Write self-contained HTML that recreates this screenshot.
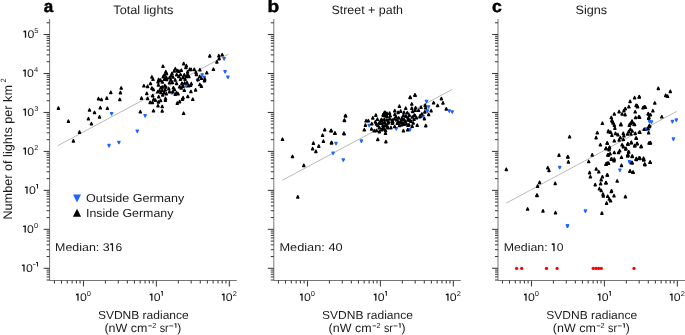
<!DOCTYPE html>
<html><head><meta charset="utf-8"><style>html,body{margin:0;padding:0;background:#fff;overflow:hidden}svg{display:block;will-change:transform;text-rendering:geometricPrecision}</style></head>
<body><svg width="685" height="335" viewBox="0 0 685 335">
<rect width="100%" height="100%" fill="#fff"/>
<path d="M49.6 19.0V280.5H236.8" stroke="#777" stroke-width="1" fill="none"/>
<path d="M46.60 280.01H49.6M46.60 276.92H49.6M46.60 274.31H49.6M46.60 272.06H49.6M46.60 270.06H49.6M43.60 268.28H49.6M46.60 256.55H49.6M46.60 249.69H49.6M46.60 244.82H49.6M46.60 241.05H49.6M46.60 237.96H49.6M46.60 235.35H49.6M46.60 233.10H49.6M46.60 231.10H49.6M43.60 229.32H49.6M46.60 217.59H49.6M46.60 210.73H49.6M46.60 205.86H49.6M46.60 202.09H49.6M46.60 199.00H49.6M46.60 196.39H49.6M46.60 194.14H49.6M46.60 192.14H49.6M43.60 190.36H49.6M46.60 178.63H49.6M46.60 171.77H49.6M46.60 166.90H49.6M46.60 163.13H49.6M46.60 160.04H49.6M46.60 157.43H49.6M46.60 155.18H49.6M46.60 153.18H49.6M43.60 151.40H49.6M46.60 139.67H49.6M46.60 132.81H49.6M46.60 127.94H49.6M46.60 124.17H49.6M46.60 121.08H49.6M46.60 118.47H49.6M46.60 116.22H49.6M46.60 114.22H49.6M43.60 112.44H49.6M46.60 100.71H49.6M46.60 93.85H49.6M46.60 88.98H49.6M46.60 85.21H49.6M46.60 82.12H49.6M46.60 79.51H49.6M46.60 77.26H49.6M46.60 75.26H49.6M43.60 73.48H49.6M46.60 61.75H49.6M46.60 54.89H49.6M46.60 50.02H49.6M46.60 46.25H49.6M46.60 43.16H49.6M46.60 40.55H49.6M46.60 38.30H49.6M46.60 36.30H49.6M43.60 34.52H49.6M46.60 22.79H49.6M54.42 280.5V283.50M61.49 280.5V283.50M67.26 280.5V283.50M72.14 280.5V283.50M76.37 280.5V283.50M80.10 280.5V283.50M83.44 280.5V286.50M105.39 280.5V283.50M118.24 280.5V283.50M127.35 280.5V283.50M134.42 280.5V283.50M140.19 280.5V283.50M145.07 280.5V283.50M149.30 280.5V283.50M153.03 280.5V283.50M156.37 280.5V286.50M178.32 280.5V283.50M191.17 280.5V283.50M200.28 280.5V283.50M207.35 280.5V283.50M213.12 280.5V283.50M218.00 280.5V283.50M222.23 280.5V283.50M225.96 280.5V283.50M229.30 280.5V286.50" stroke="#333" stroke-width="1" fill="none"/>
<path d="M273.8 19.0V280.5H460.8" stroke="#777" stroke-width="1" fill="none"/>
<path d="M270.80 280.01H273.8M270.80 276.92H273.8M270.80 274.31H273.8M270.80 272.06H273.8M270.80 270.06H273.8M267.80 268.28H273.8M270.80 256.55H273.8M270.80 249.69H273.8M270.80 244.82H273.8M270.80 241.05H273.8M270.80 237.96H273.8M270.80 235.35H273.8M270.80 233.10H273.8M270.80 231.10H273.8M267.80 229.32H273.8M270.80 217.59H273.8M270.80 210.73H273.8M270.80 205.86H273.8M270.80 202.09H273.8M270.80 199.00H273.8M270.80 196.39H273.8M270.80 194.14H273.8M270.80 192.14H273.8M267.80 190.36H273.8M270.80 178.63H273.8M270.80 171.77H273.8M270.80 166.90H273.8M270.80 163.13H273.8M270.80 160.04H273.8M270.80 157.43H273.8M270.80 155.18H273.8M270.80 153.18H273.8M267.80 151.40H273.8M270.80 139.67H273.8M270.80 132.81H273.8M270.80 127.94H273.8M270.80 124.17H273.8M270.80 121.08H273.8M270.80 118.47H273.8M270.80 116.22H273.8M270.80 114.22H273.8M267.80 112.44H273.8M270.80 100.71H273.8M270.80 93.85H273.8M270.80 88.98H273.8M270.80 85.21H273.8M270.80 82.12H273.8M270.80 79.51H273.8M270.80 77.26H273.8M270.80 75.26H273.8M267.80 73.48H273.8M270.80 61.75H273.8M270.80 54.89H273.8M270.80 50.02H273.8M270.80 46.25H273.8M270.80 43.16H273.8M270.80 40.55H273.8M270.80 38.30H273.8M270.80 36.30H273.8M267.80 34.52H273.8M270.80 22.79H273.8M278.43 280.5V283.50M285.50 280.5V283.50M291.27 280.5V283.50M296.15 280.5V283.50M300.38 280.5V283.50M304.11 280.5V283.50M307.45 280.5V286.50M329.40 280.5V283.50M342.25 280.5V283.50M351.36 280.5V283.50M358.43 280.5V283.50M364.20 280.5V283.50M369.08 280.5V283.50M373.31 280.5V283.50M377.04 280.5V283.50M380.38 280.5V286.50M402.33 280.5V283.50M415.18 280.5V283.50M424.29 280.5V283.50M431.36 280.5V283.50M437.13 280.5V283.50M442.01 280.5V283.50M446.24 280.5V283.50M449.97 280.5V283.50M453.31 280.5V286.50" stroke="#333" stroke-width="1" fill="none"/>
<path d="M498.0 19.0V280.5H685.5" stroke="#777" stroke-width="1" fill="none"/>
<path d="M495.00 280.01H498.0M495.00 276.92H498.0M495.00 274.31H498.0M495.00 272.06H498.0M495.00 270.06H498.0M492.00 268.28H498.0M495.00 256.55H498.0M495.00 249.69H498.0M495.00 244.82H498.0M495.00 241.05H498.0M495.00 237.96H498.0M495.00 235.35H498.0M495.00 233.10H498.0M495.00 231.10H498.0M492.00 229.32H498.0M495.00 217.59H498.0M495.00 210.73H498.0M495.00 205.86H498.0M495.00 202.09H498.0M495.00 199.00H498.0M495.00 196.39H498.0M495.00 194.14H498.0M495.00 192.14H498.0M492.00 190.36H498.0M495.00 178.63H498.0M495.00 171.77H498.0M495.00 166.90H498.0M495.00 163.13H498.0M495.00 160.04H498.0M495.00 157.43H498.0M495.00 155.18H498.0M495.00 153.18H498.0M492.00 151.40H498.0M495.00 139.67H498.0M495.00 132.81H498.0M495.00 127.94H498.0M495.00 124.17H498.0M495.00 121.08H498.0M495.00 118.47H498.0M495.00 116.22H498.0M495.00 114.22H498.0M492.00 112.44H498.0M495.00 100.71H498.0M495.00 93.85H498.0M495.00 88.98H498.0M495.00 85.21H498.0M495.00 82.12H498.0M495.00 79.51H498.0M495.00 77.26H498.0M495.00 75.26H498.0M492.00 73.48H498.0M495.00 61.75H498.0M495.00 54.89H498.0M495.00 50.02H498.0M495.00 46.25H498.0M495.00 43.16H498.0M495.00 40.55H498.0M495.00 38.30H498.0M495.00 36.30H498.0M492.00 34.52H498.0M495.00 22.79H498.0M502.43 280.5V283.50M509.50 280.5V283.50M515.27 280.5V283.50M520.15 280.5V283.50M524.38 280.5V283.50M528.11 280.5V283.50M531.45 280.5V286.50M553.40 280.5V283.50M566.25 280.5V283.50M575.36 280.5V283.50M582.43 280.5V283.50M588.20 280.5V283.50M593.08 280.5V283.50M597.31 280.5V283.50M601.04 280.5V283.50M604.38 280.5V286.50M626.33 280.5V283.50M639.18 280.5V283.50M648.29 280.5V283.50M655.36 280.5V283.50M661.13 280.5V283.50M666.01 280.5V283.50M670.24 280.5V283.50M673.97 280.5V283.50M677.31 280.5V286.50" stroke="#333" stroke-width="1" fill="none"/>
<line x1="58" y1="145.6" x2="228.2" y2="54.3" stroke="#bababa" stroke-width="1"/>
<line x1="282.1" y1="180.4" x2="452.4" y2="89.3" stroke="#bababa" stroke-width="1"/>
<line x1="506.3" y1="203.1" x2="676.7" y2="111.4" stroke="#bababa" stroke-width="1"/>
<g fill="#1f66ff" stroke="#1f66ff" stroke-width="1.35" stroke-linejoin="round">
<path d="M110.50 112.60H112.70L111.60 114.95Z"/>
<path d="M107.90 144.50H110.10L109.00 146.85Z"/>
<path d="M117.80 141.40H120.00L118.90 143.75Z"/>
<path d="M136.20 130.10H138.40L137.30 132.45Z"/>
<path d="M170.90 91.80H173.10L172.00 94.15Z"/>
<path d="M144.00 114.60H146.20L145.10 116.95Z"/>
<path d="M201.10 73.80H203.30L202.20 76.15Z"/>
<path d="M203.20 76.30H205.40L204.30 78.65Z"/>
<path d="M223.00 57.70H225.20L224.10 60.05Z"/>
<path d="M224.00 70.60H226.20L225.10 72.95Z"/>
<path d="M226.80 76.10H229.00L227.90 78.45Z"/>
<path d="M185.10 85.00H187.30L186.20 87.35Z"/>
<path d="M180.90 85.70H183.10L182.00 88.05Z"/>
<path d="M196.40 79.10H198.60L197.50 81.45Z"/>
<path d="M334.90 142.30H337.10L336.00 144.65Z"/>
<path d="M332.00 152.20H334.20L333.10 154.55Z"/>
<path d="M342.20 158.90H344.40L343.30 161.25Z"/>
<path d="M448.20 109.90H450.40L449.30 112.25Z"/>
<path d="M451.10 110.80H453.30L452.20 113.15Z"/>
<path d="M368.10 124.40H370.30L369.20 126.75Z"/>
<path d="M360.30 140.00H362.50L361.40 142.35Z"/>
<path d="M395.20 127.60H397.40L396.30 129.95Z"/>
<path d="M408.80 128.70H411.00L409.90 131.05Z"/>
<path d="M404.80 120.80H407.00L405.90 123.15Z"/>
<path d="M425.40 100.40H427.60L426.50 102.75Z"/>
<path d="M427.50 105.80H429.70L428.60 108.15Z"/>
<path d="M426.20 110.00H428.40L427.30 112.35Z"/>
<path d="M422.00 115.40H424.20L423.10 117.75Z"/>
<path d="M558.60 166.40H560.80L559.70 168.75Z"/>
<path d="M566.40 225.00H568.60L567.50 227.35Z"/>
<path d="M584.30 210.00H586.50L585.40 212.35Z"/>
<path d="M566.30 224.80H568.50L567.40 227.15Z"/>
<path d="M648.50 120.60H650.70L649.60 122.95Z"/>
<path d="M645.50 128.20H647.70L646.60 130.55Z"/>
<path d="M628.70 161.40H630.90L629.80 163.75Z"/>
<path d="M618.80 169.10H621.00L619.90 171.45Z"/>
<path d="M650.40 120.90H652.60L651.50 123.25Z"/>
<path d="M649.00 125.80H651.20L650.10 128.15Z"/>
<path d="M645.50 128.10H647.70L646.60 130.45Z"/>
<path d="M671.30 120.50H673.50L672.40 122.85Z"/>
<path d="M675.20 119.00H677.40L676.30 121.35Z"/>
<path d="M672.30 138.00H674.50L673.40 140.35Z"/>
<path d="M628.40 160.70H630.60L629.50 163.05Z"/>
</g>
<g fill="#000" stroke="#000" stroke-width="1.35" stroke-linejoin="round">
<path d="M58.40 106.85L59.50 109.20H57.30Z"/>
<path d="M68.40 119.95L69.50 122.30H67.30Z"/>
<path d="M73.40 139.65L74.50 142.00H72.30Z"/>
<path d="M79.50 130.85L80.60 133.20H78.40Z"/>
<path d="M88.40 117.45L89.50 119.80H87.30Z"/>
<path d="M91.40 122.45L92.50 124.80H90.30Z"/>
<path d="M89.50 108.75L90.60 111.10H88.40Z"/>
<path d="M94.50 111.25L95.60 113.60H93.40Z"/>
<path d="M99.50 115.65L100.60 118.00H98.40Z"/>
<path d="M100.30 106.45L101.40 108.80H99.20Z"/>
<path d="M98.50 97.45L99.60 99.80H97.40Z"/>
<path d="M101.40 98.25L102.50 100.60H100.30Z"/>
<path d="M106.80 96.85L107.90 99.20H105.70Z"/>
<path d="M107.40 107.05L108.50 109.40H106.30Z"/>
<path d="M110.80 91.15L111.90 93.50H109.70Z"/>
<path d="M121.20 86.75L122.30 89.10H120.10Z"/>
<path d="M120.40 91.35L121.50 93.70H119.30Z"/>
<path d="M119.80 98.25L120.90 100.60H118.70Z"/>
<path d="M163.00 65.05L164.10 67.40H161.90Z"/>
<path d="M175.30 67.55L176.40 69.90H174.20Z"/>
<path d="M177.10 69.35L178.20 71.70H176.00Z"/>
<path d="M174.20 69.75L175.30 72.10H173.10Z"/>
<path d="M165.80 70.45L166.90 72.80H164.70Z"/>
<path d="M166.50 72.25L167.60 74.60H165.40Z"/>
<path d="M164.30 73.75L165.40 76.10H163.20Z"/>
<path d="M172.00 72.25L173.10 74.60H170.90Z"/>
<path d="M176.70 73.35L177.80 75.70H175.60Z"/>
<path d="M171.20 74.45L172.30 76.80H170.10Z"/>
<path d="M163.20 75.55L164.30 77.90H162.10Z"/>
<path d="M151.90 75.75L153.00 78.10H150.80Z"/>
<path d="M153.00 77.95L154.10 80.30H151.90Z"/>
<path d="M158.70 78.25L159.80 80.60H157.60Z"/>
<path d="M160.50 78.95L161.60 81.30H159.40Z"/>
<path d="M158.00 80.45L159.10 82.80H156.90Z"/>
<path d="M162.30 80.75L163.40 83.10H161.20Z"/>
<path d="M164.50 77.95L165.60 80.30H163.40Z"/>
<path d="M166.30 76.15L167.40 78.50H165.20Z"/>
<path d="M166.60 78.25L167.70 80.60H165.50Z"/>
<path d="M169.50 76.45L170.60 78.80H168.40Z"/>
<path d="M170.90 78.65L172.00 81.00H169.80Z"/>
<path d="M173.00 75.75L174.10 78.10H171.90Z"/>
<path d="M175.20 78.65L176.30 81.00H174.10Z"/>
<path d="M169.50 81.45L170.60 83.80H168.40Z"/>
<path d="M172.30 81.15L173.40 83.50H171.20Z"/>
<path d="M176.60 82.25L177.70 84.60H175.50Z"/>
<path d="M150.50 82.25L151.60 84.60H149.40Z"/>
<path d="M158.40 83.65L159.50 86.00H157.30Z"/>
<path d="M164.80 84.35L165.90 86.70H163.70Z"/>
<path d="M165.90 85.75L167.00 88.10H164.80Z"/>
<path d="M162.30 85.75L163.40 88.10H161.20Z"/>
<path d="M160.90 86.55L162.00 88.90H159.80Z"/>
<path d="M151.90 86.85L153.00 89.20H150.80Z"/>
<path d="M153.40 88.25L154.50 90.60H152.30Z"/>
<path d="M168.80 87.55L169.90 89.90H167.70Z"/>
<path d="M173.40 86.55L174.50 88.90H172.30Z"/>
<path d="M174.50 88.25L175.60 90.60H173.40Z"/>
<path d="M159.50 89.35L160.60 91.70H158.40Z"/>
<path d="M162.30 89.05L163.40 91.40H161.20Z"/>
<path d="M165.20 88.65L166.30 91.00H164.10Z"/>
<path d="M157.70 90.45L158.80 92.80H156.60Z"/>
<path d="M160.90 91.15L162.00 93.50H159.80Z"/>
<path d="M164.10 91.55L165.20 93.90H163.00Z"/>
<path d="M166.30 92.55L167.40 94.90H165.20Z"/>
<path d="M169.50 90.45L170.60 92.80H168.40Z"/>
<path d="M152.70 94.35L153.80 96.70H151.60Z"/>
<path d="M158.70 95.45L159.80 97.80H157.60Z"/>
<path d="M162.70 93.65L163.80 96.00H161.60Z"/>
<path d="M165.50 97.25L166.60 99.60H164.40Z"/>
<path d="M175.20 92.95L176.30 95.30H174.10Z"/>
<path d="M176.60 91.55L177.70 93.90H175.50Z"/>
<path d="M153.70 97.95L154.80 100.30H152.60Z"/>
<path d="M143.90 84.55L145.00 86.90H142.80Z"/>
<path d="M147.60 85.15L148.70 87.50H146.50Z"/>
<path d="M146.80 92.15L147.90 94.50H145.70Z"/>
<path d="M141.50 96.85L142.60 99.20H140.40Z"/>
<path d="M147.60 97.25L148.70 99.60H146.50Z"/>
<path d="M140.30 110.45L141.40 112.80H139.20Z"/>
<path d="M153.50 109.55L154.60 111.90H152.40Z"/>
<path d="M162.20 109.75L163.30 112.10H161.10Z"/>
<path d="M158.00 104.45L159.10 106.80H156.90Z"/>
<path d="M162.20 105.25L163.30 107.60H161.10Z"/>
<path d="M150.10 101.15L151.20 103.50H149.00Z"/>
<path d="M152.40 101.15L153.50 103.50H151.30Z"/>
<path d="M158.40 100.75L159.50 103.10H157.30Z"/>
<path d="M160.60 99.25L161.70 101.60H159.50Z"/>
<path d="M165.40 98.85L166.50 101.20H164.30Z"/>
<path d="M155.40 98.85L156.50 101.20H154.30Z"/>
<path d="M183.70 62.35L184.80 64.70H182.60Z"/>
<path d="M186.40 64.45L187.50 66.80H185.30Z"/>
<path d="M185.90 66.15L187.00 68.50H184.80Z"/>
<path d="M189.70 68.15L190.80 70.50H188.60Z"/>
<path d="M191.00 68.15L192.10 70.50H189.90Z"/>
<path d="M194.30 68.15L195.40 70.50H193.20Z"/>
<path d="M199.90 68.45L201.00 70.80H198.80Z"/>
<path d="M206.80 71.55L207.90 73.90H205.70Z"/>
<path d="M181.30 69.05L182.40 71.40H180.20Z"/>
<path d="M178.80 69.85L179.90 72.20H177.70Z"/>
<path d="M187.60 70.65L188.70 73.00H186.50Z"/>
<path d="M196.00 71.15L197.10 73.50H194.90Z"/>
<path d="M196.40 73.25L197.50 75.60H195.30Z"/>
<path d="M180.50 73.25L181.60 75.60H179.40Z"/>
<path d="M184.30 73.65L185.40 76.00H183.20Z"/>
<path d="M187.60 73.25L188.70 75.60H186.50Z"/>
<path d="M178.80 75.25L179.90 77.60H177.70Z"/>
<path d="M183.00 76.15L184.10 78.50H181.90Z"/>
<path d="M186.40 75.25L187.50 77.60H185.30Z"/>
<path d="M188.90 75.25L190.00 77.60H187.80Z"/>
<path d="M180.50 77.85L181.60 80.20H179.40Z"/>
<path d="M185.10 77.85L186.20 80.20H184.00Z"/>
<path d="M199.70 75.25L200.80 77.60H198.60Z"/>
<path d="M201.40 76.95L202.50 79.30H200.30Z"/>
<path d="M198.10 78.25L199.20 80.60H197.00Z"/>
<path d="M204.80 77.85L205.90 80.20H203.70Z"/>
<path d="M209.80 54.65L210.90 57.00H208.70Z"/>
<path d="M218.80 54.45L219.90 56.80H217.70Z"/>
<path d="M222.20 53.55L223.30 55.90H221.10Z"/>
<path d="M219.10 57.35L220.20 59.70H218.00Z"/>
<path d="M216.90 60.65L218.00 63.00H215.80Z"/>
<path d="M213.40 68.05L214.50 70.40H212.30Z"/>
<path d="M182.00 82.05L183.10 84.40H180.90Z"/>
<path d="M184.70 81.75L185.80 84.10H183.60Z"/>
<path d="M187.00 81.35L188.10 83.70H185.90Z"/>
<path d="M191.30 82.45L192.40 84.80H190.20Z"/>
<path d="M190.50 84.05L191.60 86.40H189.40Z"/>
<path d="M188.60 84.45L189.70 86.80H187.50Z"/>
<path d="M183.10 84.85L184.20 87.20H182.00Z"/>
<path d="M179.60 85.55L180.70 87.90H178.50Z"/>
<path d="M181.20 86.75L182.30 89.10H180.10Z"/>
<path d="M184.30 89.05L185.40 91.40H183.20Z"/>
<path d="M178.10 92.55L179.20 94.90H177.00Z"/>
<path d="M190.90 90.25L192.00 92.60H189.80Z"/>
<path d="M195.60 88.65L196.70 91.00H194.50Z"/>
<path d="M187.80 95.25L188.90 97.60H186.70Z"/>
<path d="M183.10 96.45L184.20 98.80H182.00Z"/>
<path d="M182.40 98.05L183.50 100.40H181.30Z"/>
<path d="M192.80 98.05L193.90 100.40H191.70Z"/>
<path d="M179.60 100.35L180.70 102.70H178.50Z"/>
<path d="M177.30 101.85L178.40 104.20H176.20Z"/>
<path d="M199.80 83.25L200.90 85.60H198.70Z"/>
<path d="M201.40 84.85L202.50 87.20H200.30Z"/>
<path d="M204.50 79.35L205.60 81.70H203.40Z"/>
<path d="M183.60 112.05L184.70 114.40H182.50Z"/>
<path d="M172.80 90.45L173.90 92.80H171.70Z"/>
<path d="M282.50 138.05L283.60 140.40H281.40Z"/>
<path d="M292.50 155.25L293.60 157.60H291.40Z"/>
<path d="M303.80 164.15L304.90 166.50H302.70Z"/>
<path d="M297.80 195.65L298.90 198.00H296.70Z"/>
<path d="M313.40 141.85L314.50 144.20H312.30Z"/>
<path d="M312.60 147.45L313.70 149.80H311.50Z"/>
<path d="M315.90 150.15L317.00 152.50H314.80Z"/>
<path d="M318.80 144.85L319.90 147.20H317.70Z"/>
<path d="M323.40 139.95L324.50 142.30H322.30Z"/>
<path d="M322.60 134.05L323.70 136.40H321.50Z"/>
<path d="M324.70 128.45L325.80 130.80H323.60Z"/>
<path d="M330.90 129.45L332.00 131.80H329.80Z"/>
<path d="M335.00 131.85L336.10 134.20H333.90Z"/>
<path d="M331.50 141.35L332.60 143.70H330.40Z"/>
<path d="M344.10 132.45L345.20 134.80H343.00Z"/>
<path d="M344.40 119.25L345.50 121.60H343.30Z"/>
<path d="M345.40 114.45L346.50 116.80H344.30Z"/>
<path d="M410.10 95.95L411.20 98.30H409.00Z"/>
<path d="M414.90 93.75L416.00 96.10H413.80Z"/>
<path d="M441.40 97.35L442.50 99.70H440.30Z"/>
<path d="M443.00 101.65L444.10 104.00H441.90Z"/>
<path d="M446.30 107.65L447.40 110.00H445.20Z"/>
<path d="M345.60 114.55L346.70 116.90H344.50Z"/>
<path d="M344.40 118.95L345.50 121.30H343.30Z"/>
<path d="M331.30 129.25L332.40 131.60H330.20Z"/>
<path d="M334.90 132.05L336.00 134.40H333.80Z"/>
<path d="M343.90 132.05L345.00 134.40H342.80Z"/>
<path d="M331.60 141.55L332.70 143.90H330.50Z"/>
<path d="M415.10 93.95L416.20 96.30H414.00Z"/>
<path d="M410.30 96.25L411.40 98.60H409.20Z"/>
<path d="M375.90 113.85L377.00 116.20H374.80Z"/>
<path d="M372.80 116.65L373.90 119.00H371.70Z"/>
<path d="M377.40 117.95L378.50 120.30H376.30Z"/>
<path d="M383.10 113.55L384.20 115.90H382.00Z"/>
<path d="M384.30 111.45L385.40 113.80H383.20Z"/>
<path d="M381.60 118.25L382.70 120.60H380.50Z"/>
<path d="M366.10 119.55L367.20 121.90H365.00Z"/>
<path d="M368.30 119.55L369.40 121.90H367.20Z"/>
<path d="M365.40 123.85L366.50 126.20H364.30Z"/>
<path d="M371.80 122.45L372.90 124.80H370.70Z"/>
<path d="M364.30 128.55L365.40 130.90H363.20Z"/>
<path d="M371.50 127.75L372.60 130.10H370.40Z"/>
<path d="M374.30 129.55L375.40 131.90H373.20Z"/>
<path d="M376.50 129.25L377.60 131.60H375.40Z"/>
<path d="M379.40 130.35L380.50 132.70H378.30Z"/>
<path d="M377.80 138.15L378.90 140.50H376.70Z"/>
<path d="M375.40 120.65L376.50 123.00H374.30Z"/>
<path d="M376.50 122.75L377.60 125.10H375.40Z"/>
<path d="M377.90 124.25L379.00 126.60H376.80Z"/>
<path d="M379.40 121.35L380.50 123.70H378.30Z"/>
<path d="M380.80 119.15L381.90 121.50H379.70Z"/>
<path d="M382.60 121.35L383.70 123.70H381.50Z"/>
<path d="M382.90 124.25L384.00 126.60H381.80Z"/>
<path d="M382.90 127.05L384.00 129.40H381.80Z"/>
<path d="M379.40 126.35L380.50 128.70H378.30Z"/>
<path d="M399.40 104.95L400.50 107.30H398.30Z"/>
<path d="M405.70 106.95L406.80 109.30H404.60Z"/>
<path d="M394.80 109.55L395.90 111.90H393.70Z"/>
<path d="M398.10 111.15L399.20 113.50H397.00Z"/>
<path d="M400.70 109.85L401.80 112.20H399.60Z"/>
<path d="M404.00 111.15L405.10 113.50H402.90Z"/>
<path d="M407.30 111.55L408.40 113.90H406.20Z"/>
<path d="M385.00 111.15L386.10 113.50H383.90Z"/>
<path d="M386.90 112.15L388.00 114.50H385.80Z"/>
<path d="M389.60 111.85L390.70 114.20H388.50Z"/>
<path d="M383.70 114.15L384.80 116.50H382.60Z"/>
<path d="M386.90 114.85L388.00 117.20H385.80Z"/>
<path d="M390.20 114.45L391.30 116.80H389.10Z"/>
<path d="M394.80 113.15L395.90 115.50H393.70Z"/>
<path d="M396.10 115.45L397.20 117.80H395.00Z"/>
<path d="M398.80 116.75L399.90 119.10H397.70Z"/>
<path d="M403.40 114.15L404.50 116.50H402.30Z"/>
<path d="M406.00 114.85L407.10 117.20H404.90Z"/>
<path d="M409.30 113.85L410.40 116.20H408.20Z"/>
<path d="M384.30 118.05L385.40 120.40H383.20Z"/>
<path d="M386.90 118.75L388.00 121.10H385.80Z"/>
<path d="M389.60 117.45L390.70 119.80H388.50Z"/>
<path d="M392.20 118.75L393.30 121.10H391.10Z"/>
<path d="M394.50 117.45L395.60 119.80H393.40Z"/>
<path d="M396.80 118.75L397.90 121.10H395.70Z"/>
<path d="M401.40 118.75L402.50 121.10H400.30Z"/>
<path d="M404.00 118.05L405.10 120.40H402.90Z"/>
<path d="M408.00 118.75L409.10 121.10H406.90Z"/>
<path d="M392.80 120.75L393.90 123.10H391.70Z"/>
<path d="M398.80 120.75L399.90 123.10H397.70Z"/>
<path d="M390.90 126.35L392.00 128.70H389.80Z"/>
<path d="M394.60 125.25L395.70 127.60H393.50Z"/>
<path d="M403.40 129.55L404.50 131.90H402.30Z"/>
<path d="M407.70 128.55L408.80 130.90H406.60Z"/>
<path d="M385.90 140.35L387.00 142.70H384.80Z"/>
<path d="M385.10 124.25L386.20 126.60H384.00Z"/>
<path d="M384.40 127.75L385.50 130.10H383.30Z"/>
<path d="M385.50 129.25L386.60 131.60H384.40Z"/>
<path d="M388.00 121.65L389.10 124.00H386.90Z"/>
<path d="M392.30 121.85L393.40 124.20H391.20Z"/>
<path d="M397.30 121.85L398.40 124.20H396.20Z"/>
<path d="M401.60 123.45L402.70 125.80H400.50Z"/>
<path d="M403.00 122.05L404.10 124.40H401.90Z"/>
<path d="M399.50 124.25L400.60 126.60H398.40Z"/>
<path d="M387.30 124.95L388.40 127.30H386.20Z"/>
<path d="M433.60 101.55L434.70 103.90H432.50Z"/>
<path d="M437.60 104.25L438.70 106.60H436.50Z"/>
<path d="M411.80 102.75L412.90 105.10H410.70Z"/>
<path d="M411.80 106.95L412.90 109.30H410.70Z"/>
<path d="M415.60 106.55L416.70 108.90H414.50Z"/>
<path d="M421.00 105.95L422.10 108.30H419.90Z"/>
<path d="M425.20 104.05L426.30 106.40H424.10Z"/>
<path d="M425.60 106.55L426.70 108.90H424.50Z"/>
<path d="M431.10 109.45L432.20 111.80H430.00Z"/>
<path d="M428.60 113.25L429.70 115.60H427.50Z"/>
<path d="M424.80 110.65L425.90 113.00H423.70Z"/>
<path d="M418.50 109.05L419.60 111.40H417.40Z"/>
<path d="M415.20 109.05L416.30 111.40H414.10Z"/>
<path d="M412.70 110.25L413.80 112.60H411.60Z"/>
<path d="M421.90 112.75L423.00 115.10H420.80Z"/>
<path d="M420.20 114.45L421.30 116.80H419.10Z"/>
<path d="M414.30 114.05L415.40 116.40H413.20Z"/>
<path d="M412.30 115.75L413.40 118.10H411.20Z"/>
<path d="M424.40 117.35L425.50 119.70H423.30Z"/>
<path d="M417.20 123.95L418.30 126.30H416.10Z"/>
<path d="M425.80 124.35L426.90 126.70H424.70Z"/>
<path d="M413.20 121.75L414.30 124.10H412.10Z"/>
<path d="M412.20 125.05L413.30 127.40H411.10Z"/>
<path d="M406.40 122.55L407.50 124.90H405.30Z"/>
<path d="M407.90 123.95L409.00 126.30H406.80Z"/>
<path d="M410.00 118.95L411.10 121.30H408.90Z"/>
<path d="M415.00 114.25L416.10 116.60H413.90Z"/>
<path d="M420.00 115.35L421.10 117.70H418.90Z"/>
<path d="M402.00 117.05L403.10 119.40H400.90Z"/>
<path d="M405.00 120.05L406.10 122.40H403.90Z"/>
<path d="M408.00 116.55L409.10 118.90H406.90Z"/>
<path d="M411.00 120.05L412.10 122.40H409.90Z"/>
<path d="M404.00 123.05L405.10 125.40H402.90Z"/>
<path d="M414.00 118.05L415.10 120.40H412.90Z"/>
<path d="M409.00 123.55L410.10 125.90H407.90Z"/>
<path d="M401.00 121.05L402.10 123.40H399.90Z"/>
<path d="M416.50 116.55L417.60 118.90H415.40Z"/>
<path d="M385.00 113.95L386.10 116.30H383.90Z"/>
<path d="M386.90 115.25L388.00 117.60H385.80Z"/>
<path d="M384.60 121.05L385.70 123.40H383.50Z"/>
<path d="M388.70 120.65L389.80 123.00H387.60Z"/>
<path d="M392.30 120.25L393.40 122.60H391.20Z"/>
<path d="M386.00 123.75L387.10 126.10H384.90Z"/>
<path d="M380.60 121.95L381.70 124.30H379.50Z"/>
<path d="M383.30 126.85L384.40 129.20H382.20Z"/>
<path d="M387.80 126.45L388.90 128.80H386.70Z"/>
<path d="M385.50 132.05L386.60 134.40H384.40Z"/>
<path d="M381.50 128.55L382.60 130.90H380.40Z"/>
<path d="M506.30 168.15L507.40 170.50H505.20Z"/>
<path d="M547.80 166.55L548.90 168.90H546.70Z"/>
<path d="M549.00 169.15L550.10 171.50H547.90Z"/>
<path d="M559.00 153.85L560.10 156.20H557.90Z"/>
<path d="M567.90 155.75L569.00 158.10H566.80Z"/>
<path d="M568.40 160.65L569.50 163.00H567.30Z"/>
<path d="M539.60 181.15L540.70 183.50H538.50Z"/>
<path d="M537.60 184.85L538.70 187.20H536.50Z"/>
<path d="M555.20 182.15L556.30 184.50H554.10Z"/>
<path d="M537.00 193.85L538.10 196.20H535.90Z"/>
<path d="M537.00 194.25L538.10 196.60H535.90Z"/>
<path d="M527.60 207.75L528.70 210.10H526.50Z"/>
<path d="M543.00 209.65L544.10 212.00H541.90Z"/>
<path d="M555.50 211.45L556.60 213.80H554.40Z"/>
<path d="M602.40 122.05L603.50 124.40H601.30Z"/>
<path d="M569.60 135.55L570.70 137.90H568.50Z"/>
<path d="M597.30 131.55L598.40 133.90H596.20Z"/>
<path d="M596.10 136.35L597.20 138.70H595.00Z"/>
<path d="M608.40 130.35L609.50 132.70H607.30Z"/>
<path d="M600.40 143.55L601.50 145.90H599.30Z"/>
<path d="M607.20 141.95L608.30 144.30H606.10Z"/>
<path d="M606.00 147.15L607.10 149.50H604.90Z"/>
<path d="M609.00 147.15L610.10 149.50H607.90Z"/>
<path d="M592.20 153.65L593.30 156.00H591.10Z"/>
<path d="M567.80 155.45L568.90 157.80H566.70Z"/>
<path d="M607.80 153.65L608.90 156.00H606.70Z"/>
<path d="M588.70 160.25L589.80 162.60H587.60Z"/>
<path d="M606.00 163.05L607.10 165.40H604.90Z"/>
<path d="M607.20 161.85L608.30 164.20H606.10Z"/>
<path d="M596.20 167.75L597.30 170.10H595.10Z"/>
<path d="M598.80 170.55L599.90 172.90H597.70Z"/>
<path d="M589.60 171.35L590.70 173.70H588.50Z"/>
<path d="M590.40 175.55L591.50 177.90H589.30Z"/>
<path d="M607.20 173.75L608.30 176.10H606.10Z"/>
<path d="M602.40 175.55L603.50 177.90H601.30Z"/>
<path d="M601.20 178.55L602.30 180.90H600.10Z"/>
<path d="M600.60 182.45L601.70 184.80H599.50Z"/>
<path d="M606.00 181.55L607.10 183.90H604.90Z"/>
<path d="M595.20 183.35L596.30 185.70H594.10Z"/>
<path d="M599.40 187.45L600.50 189.80H598.30Z"/>
<path d="M601.20 189.25L602.30 191.60H600.10Z"/>
<path d="M603.00 192.85L604.10 195.20H601.90Z"/>
<path d="M611.30 190.15L612.40 192.50H610.20Z"/>
<path d="M603.30 194.65L604.40 197.00H602.20Z"/>
<path d="M607.70 195.05L608.80 197.40H606.60Z"/>
<path d="M609.30 197.75L610.40 200.10H608.20Z"/>
<path d="M610.60 199.55L611.70 201.90H609.50Z"/>
<path d="M614.00 194.45L615.10 196.80H612.90Z"/>
<path d="M606.60 201.85L607.70 204.20H605.50Z"/>
<path d="M601.90 211.85L603.00 214.20H600.80Z"/>
<path d="M625.40 195.35L626.50 197.70H624.30Z"/>
<path d="M634.60 96.55L635.70 98.90H633.50Z"/>
<path d="M639.20 95.65L640.30 98.00H638.10Z"/>
<path d="M630.10 100.15L631.20 102.50H629.00Z"/>
<path d="M636.10 104.15L637.20 106.50H635.00Z"/>
<path d="M637.60 105.55L638.70 107.90H636.50Z"/>
<path d="M643.00 106.45L644.10 108.80H641.90Z"/>
<path d="M645.40 105.95L646.50 108.30H644.30Z"/>
<path d="M628.90 105.55L630.00 107.90H627.80Z"/>
<path d="M625.30 107.35L626.40 109.70H624.20Z"/>
<path d="M623.90 109.35L625.00 111.70H622.80Z"/>
<path d="M619.10 110.35L620.20 112.70H618.00Z"/>
<path d="M622.10 112.75L623.20 115.10H621.00Z"/>
<path d="M625.10 113.35L626.20 115.70H624.00Z"/>
<path d="M614.30 112.75L615.40 115.10H613.20Z"/>
<path d="M635.20 110.55L636.30 112.90H634.10Z"/>
<path d="M635.60 116.25L636.70 118.60H634.50Z"/>
<path d="M639.60 116.05L640.70 118.40H638.50Z"/>
<path d="M611.30 116.25L612.40 118.60H610.20Z"/>
<path d="M611.90 119.25L613.00 121.60H610.80Z"/>
<path d="M613.10 121.65L614.20 124.00H612.00Z"/>
<path d="M620.90 122.85L622.00 125.20H619.80Z"/>
<path d="M632.00 119.85L633.10 122.20H630.90Z"/>
<path d="M630.40 122.25L631.50 124.60H629.30Z"/>
<path d="M634.00 122.85L635.10 125.20H632.90Z"/>
<path d="M648.40 112.75L649.50 115.10H647.30Z"/>
<path d="M649.00 116.25L650.10 118.60H647.90Z"/>
<path d="M612.50 120.25L613.60 122.60H611.40Z"/>
<path d="M614.30 123.85L615.40 126.20H613.20Z"/>
<path d="M614.90 126.85L616.00 129.20H613.80Z"/>
<path d="M620.90 123.55L622.00 125.90H619.80Z"/>
<path d="M629.30 123.85L630.40 126.20H628.20Z"/>
<path d="M632.20 120.85L633.30 123.20H631.10Z"/>
<path d="M634.60 123.25L635.70 125.60H633.50Z"/>
<path d="M630.40 128.05L631.50 130.40H629.30Z"/>
<path d="M628.70 130.35L629.80 132.70H627.60Z"/>
<path d="M632.20 129.75L633.30 132.10H631.10Z"/>
<path d="M627.50 132.75L628.60 135.10H626.40Z"/>
<path d="M631.00 132.75L632.10 135.10H629.90Z"/>
<path d="M635.20 132.15L636.30 134.50H634.10Z"/>
<path d="M639.40 130.95L640.50 133.30H638.30Z"/>
<path d="M644.20 128.05L645.30 130.40H643.10Z"/>
<path d="M649.00 125.05L650.10 127.40H647.90Z"/>
<path d="M608.40 129.75L609.50 132.10H607.30Z"/>
<path d="M610.70 130.95L611.80 133.30H609.60Z"/>
<path d="M611.90 133.95L613.00 136.30H610.80Z"/>
<path d="M615.50 132.15L616.60 134.50H614.40Z"/>
<path d="M617.90 133.35L619.00 135.70H616.80Z"/>
<path d="M623.30 132.15L624.40 134.50H622.20Z"/>
<path d="M623.90 134.55L625.00 136.90H622.80Z"/>
<path d="M620.30 136.35L621.40 138.70H619.20Z"/>
<path d="M619.10 138.75L620.20 141.10H618.00Z"/>
<path d="M614.30 139.55L615.40 141.90H613.20Z"/>
<path d="M623.30 138.15L624.40 140.50H622.20Z"/>
<path d="M636.40 136.95L637.50 139.30H635.30Z"/>
<path d="M607.20 141.75L608.30 144.10H606.10Z"/>
<path d="M606.00 147.15L607.10 149.50H604.90Z"/>
<path d="M609.60 145.95L610.70 148.30H608.50Z"/>
<path d="M609.00 148.35L610.10 150.70H607.90Z"/>
<path d="M622.10 143.55L623.20 145.90H621.00Z"/>
<path d="M623.30 145.35L624.40 147.70H622.20Z"/>
<path d="M625.70 147.75L626.80 150.10H624.60Z"/>
<path d="M628.10 142.95L629.20 145.30H627.00Z"/>
<path d="M631.30 141.45L632.40 143.80H630.20Z"/>
<path d="M634.60 144.35L635.70 146.70H633.50Z"/>
<path d="M637.00 142.35L638.10 144.70H635.90Z"/>
<path d="M641.20 145.05L642.30 147.40H640.10Z"/>
<path d="M619.70 149.45L620.80 151.80H618.60Z"/>
<path d="M618.50 151.25L619.60 153.60H617.40Z"/>
<path d="M614.30 151.25L615.40 153.60H613.20Z"/>
<path d="M628.70 150.65L629.80 153.00H627.60Z"/>
<path d="M610.10 152.45L611.20 154.80H609.00Z"/>
<path d="M608.40 153.65L609.50 156.00H607.30Z"/>
<path d="M621.50 156.05L622.60 158.40H620.40Z"/>
<path d="M628.10 153.65L629.20 156.00H627.00Z"/>
<path d="M632.20 154.85L633.30 157.20H631.10Z"/>
<path d="M611.30 157.85L612.40 160.20H610.20Z"/>
<path d="M614.30 157.85L615.40 160.20H613.20Z"/>
<path d="M636.40 157.25L637.50 159.60H635.30Z"/>
<path d="M640.00 157.25L641.10 159.60H638.90Z"/>
<path d="M643.60 157.05L644.70 159.40H642.50Z"/>
<path d="M649.00 141.75L650.10 144.10H647.90Z"/>
<path d="M627.70 154.65L628.80 157.00H626.60Z"/>
<path d="M636.30 158.25L637.40 160.60H635.20Z"/>
<path d="M639.60 156.65L640.70 159.00H638.50Z"/>
<path d="M643.80 158.55L644.90 160.90H642.70Z"/>
<path d="M650.10 160.95L651.20 163.30H649.00Z"/>
<path d="M645.00 163.35L646.10 165.70H643.90Z"/>
<path d="M632.20 161.45L633.30 163.80H631.10Z"/>
<path d="M621.50 164.15L622.60 166.50H620.40Z"/>
<path d="M630.10 169.85L631.20 172.20H629.00Z"/>
<path d="M633.10 171.05L634.20 173.40H632.00Z"/>
<path d="M611.60 157.65L612.70 160.00H610.50Z"/>
<path d="M614.00 159.45L615.10 161.80H612.90Z"/>
<path d="M608.60 161.85L609.70 164.20H607.50Z"/>
<path d="M606.20 162.65L607.30 165.00H605.10Z"/>
<path d="M607.40 173.75L608.50 176.10H606.30Z"/>
<path d="M606.00 181.55L607.10 183.90H604.90Z"/>
<path d="M617.20 179.75L618.30 182.10H616.10Z"/>
<path d="M611.60 189.65L612.70 192.00H610.50Z"/>
<path d="M658.30 87.15L659.40 89.50H657.20Z"/>
<path d="M670.30 90.15L671.40 92.50H669.20Z"/>
<path d="M665.70 94.15L666.80 96.50H664.60Z"/>
<path d="M667.60 94.95L668.70 97.30H666.50Z"/>
<path d="M639.30 95.55L640.40 97.90H638.20Z"/>
<path d="M654.80 101.75L655.90 104.10H653.70Z"/>
<path d="M644.30 105.65L645.40 108.00H643.20Z"/>
<path d="M637.00 104.25L638.10 106.60H635.90Z"/>
<path d="M652.90 109.55L654.00 111.90H651.80Z"/>
<path d="M648.20 112.45L649.30 114.80H647.10Z"/>
<path d="M650.50 113.55L651.60 115.90H649.40Z"/>
<path d="M638.90 115.55L640.00 117.90H637.80Z"/>
<path d="M648.60 116.85L649.70 119.20H647.50Z"/>
<path d="M661.80 115.55L662.90 117.90H660.70Z"/>
<path d="M649.60 124.65L650.70 127.00H648.50Z"/>
<path d="M648.20 127.55L649.30 129.90H647.10Z"/>
<path d="M648.60 131.45L649.70 133.80H647.50Z"/>
<path d="M639.90 131.05L641.00 133.40H638.80Z"/>
<path d="M636.00 136.85L637.10 139.20H634.90Z"/>
<path d="M650.50 141.55L651.60 143.90H649.40Z"/>
<path d="M627.70 142.65L628.80 145.00H626.60Z"/>
<path d="M631.30 141.15L632.40 143.50H630.20Z"/>
<path d="M637.20 142.25L638.30 144.60H636.10Z"/>
<path d="M634.90 144.45L636.00 146.80H633.80Z"/>
<path d="M641.10 145.35L642.20 147.70H640.00Z"/>
<path d="M650.10 141.75L651.20 144.10H649.00Z"/>
<path d="M625.90 147.15L627.00 149.50H624.80Z"/>
<path d="M628.60 150.65L629.70 153.00H627.50Z"/>
<path d="M627.70 153.75L628.80 156.10H626.60Z"/>
<path d="M632.20 155.15L633.30 157.50H631.10Z"/>
<path d="M636.10 157.85L637.20 160.20H635.00Z"/>
<path d="M639.30 156.65L640.40 159.00H638.20Z"/>
<path d="M643.80 158.35L644.90 160.70H642.70Z"/>
<path d="M644.70 162.85L645.80 165.20H643.60Z"/>
<path d="M650.10 160.95L651.20 163.30H649.00Z"/>
<path d="M631.80 161.45L632.90 163.80H630.70Z"/>
<path d="M630.00 169.85L631.10 172.20H628.90Z"/>
<path d="M633.10 170.95L634.20 173.30H632.00Z"/>
</g>
<g fill="#ff0000">
<circle cx="516.6" cy="268.4" r="1.65"/>
<circle cx="521.7" cy="268.4" r="1.65"/>
<circle cx="546.5" cy="268.4" r="1.65"/>
<circle cx="557.1" cy="268.4" r="1.65"/>
<circle cx="593.2" cy="268.4" r="1.65"/>
<circle cx="596.0" cy="268.4" r="1.65"/>
<circle cx="598.6" cy="268.4" r="1.65"/>
<circle cx="601.3" cy="268.4" r="1.65"/>
<circle cx="634.0" cy="268.4" r="1.65"/>
</g>
<g font-family="Liberation Sans, sans-serif" fill="#1a1a1a">
<text x="48.45" y="12.4" font-size="17" font-weight="bold" fill="#000" stroke="#000" stroke-width="0.45" text-anchor="middle" transform="translate(48.45 0) scale(1.0 1) translate(-48.45 0)">a</text>
<text x="273.35" y="12.4" font-size="17" font-weight="bold" fill="#000" stroke="#000" stroke-width="0.45" text-anchor="middle" transform="translate(273.35 0) scale(1.12 1) translate(-273.35 0)">b</text>
<text x="496.9" y="12.4" font-size="17" font-weight="bold" fill="#000" stroke="#000" stroke-width="0.45" text-anchor="middle" transform="translate(496.9 0) scale(1.04 1) translate(-496.9 0)">c</text>
<text x="143.35" y="13.8" font-size="12.2" text-anchor="middle" textLength="60.1" lengthAdjust="spacingAndGlyphs" >Total lights</text>
<text x="367.25" y="14.0" font-size="12.2" text-anchor="middle" textLength="71.6" lengthAdjust="spacingAndGlyphs" >Street + path</text>
<text x="591.3" y="13.8" font-size="12.2" text-anchor="middle" textLength="31.6" lengthAdjust="spacingAndGlyphs" >Signs</text>
<text x="55.1" y="251.35" font-size="11.2" text-anchor="start" textLength="54.5" lengthAdjust="spacingAndGlyphs" >Median: 3</text>
<path d="M110.25 243.56L111.85 243.15V244.79L110.25 245.04ZM111.85 243.15h1.25V251.35h-1.25Z"/>
<text x="118.9" y="251.35" font-size="11.2" text-anchor="middle" transform="translate(118.9 0) scale(1.08 1) translate(-118.9 0)">6</text>
<text x="279.4" y="251.35" font-size="11.2" text-anchor="start" textLength="63.2" lengthAdjust="spacingAndGlyphs" >Median: 40</text>
<text x="503.7" y="251.35" font-size="11.2" text-anchor="start" textLength="44.0" lengthAdjust="spacingAndGlyphs" >Median:</text>
<path d="M551.70 243.56L553.30 243.15V244.79L551.70 245.04ZM553.30 243.15h1.35V251.35h-1.35Z"/>
<text x="560.05" y="251.35" font-size="11.2" text-anchor="middle" transform="translate(560.05 0) scale(1.08 1) translate(-560.05 0)">0</text>
<text x="86.0" y="201.6" font-size="11.6" text-anchor="start" textLength="98.2" lengthAdjust="spacingAndGlyphs" >Outside Germany</text>
<text x="86.0" y="216.6" font-size="11.6" text-anchor="start" textLength="87.4" lengthAdjust="spacingAndGlyphs" >Inside Germany</text>
<path d="M73 194.4H81L77 202.4Z" fill="#1f66ff"/>
<path d="M77 208.8L81.1 216.8H72.9Z" fill="#000"/>
<path d="M21.90 264.74L23.35 264.38V265.82L21.90 266.04ZM23.35 264.38h1.30V271.58h-1.30Z" fill="#1a1a1a"/><text x="29.35" y="271.58" font-size="11" text-anchor="middle" transform="translate(29.35 0) scale(1.12 1) translate(-29.35 0)">0</text><rect x="33.10" y="263.93" width="2.4" height="0.75" fill="#1a1a1a"/><path d="M36.10 262.11L37.05 261.88V262.80L36.10 262.94ZM37.05 261.88h0.95V266.48h-0.95Z" fill="#1a1a1a"/>
<path d="M23.10 225.78L24.55 225.42V226.86L23.10 227.08ZM24.55 225.42h1.30V232.62h-1.30Z" fill="#1a1a1a"/><text x="30.55" y="232.62" font-size="11" text-anchor="middle" transform="translate(30.55 0) scale(1.12 1) translate(-30.55 0)">0</text><text x="36.15" y="227.52" font-size="7.0" text-anchor="middle" transform="translate(36.15 0) scale(1.07 1) translate(-36.15 0)">0</text>
<path d="M24.90 186.82L26.35 186.46V187.90L24.90 188.12ZM26.35 186.46h1.30V193.66h-1.30Z" fill="#1a1a1a"/><text x="32.35" y="193.66" font-size="11" text-anchor="middle" transform="translate(32.35 0) scale(1.12 1) translate(-32.35 0)">0</text><path d="M36.10 184.19L37.05 183.96V184.88L36.10 185.02ZM37.05 183.96h0.95V188.56h-0.95Z" fill="#1a1a1a"/>
<path d="M23.30 147.86L24.75 147.50V148.94L23.30 149.16ZM24.75 147.50h1.30V154.70h-1.30Z" fill="#1a1a1a"/><text x="30.75" y="154.70" font-size="11" text-anchor="middle" transform="translate(30.75 0) scale(1.12 1) translate(-30.75 0)">0</text><text x="36.25" y="149.60" font-size="7.0" text-anchor="middle" transform="translate(36.25 0) scale(1.07 1) translate(-36.25 0)">2</text>
<path d="M23.30 108.90L24.75 108.54V109.98L23.30 110.20ZM24.75 108.54h1.30V115.74h-1.30Z" fill="#1a1a1a"/><text x="30.75" y="115.74" font-size="11" text-anchor="middle" transform="translate(30.75 0) scale(1.12 1) translate(-30.75 0)">0</text><text x="36.25" y="110.64" font-size="7.0" text-anchor="middle" transform="translate(36.25 0) scale(1.07 1) translate(-36.25 0)">3</text>
<path d="M23.10 69.94L24.55 69.58V71.02L23.10 71.24ZM24.55 69.58h1.30V76.78h-1.30Z" fill="#1a1a1a"/><text x="30.55" y="76.78" font-size="11" text-anchor="middle" transform="translate(30.55 0) scale(1.12 1) translate(-30.55 0)">0</text><text x="36.15" y="71.68" font-size="7.0" text-anchor="middle" transform="translate(36.15 0) scale(1.07 1) translate(-36.15 0)">4</text>
<path d="M23.40 30.98L24.85 30.62V32.06L23.40 32.28ZM24.85 30.62h1.30V37.82h-1.30Z" fill="#1a1a1a"/><text x="30.85" y="37.82" font-size="11" text-anchor="middle" transform="translate(30.85 0) scale(1.12 1) translate(-30.85 0)">0</text><text x="36.30" y="32.72" font-size="7.0" text-anchor="middle" transform="translate(36.30 0) scale(1.07 1) translate(-36.30 0)">5</text>
<path d="M75.89 293.96L77.34 293.60V295.04L75.89 295.26ZM77.34 293.60h1.30V300.80h-1.30Z" fill="#1a1a1a"/><text x="83.34" y="300.80" font-size="11" text-anchor="middle" transform="translate(83.34 0) scale(1.12 1) translate(-83.34 0)">0</text><text x="88.94" y="295.70" font-size="7.0" text-anchor="middle" transform="translate(88.94 0) scale(1.07 1) translate(-88.94 0)">0</text>
<path d="M149.72 293.96L151.17 293.60V295.04L149.72 295.26ZM151.17 293.60h1.30V300.80h-1.30Z" fill="#1a1a1a"/><text x="157.17" y="300.80" font-size="11" text-anchor="middle" transform="translate(157.17 0) scale(1.12 1) translate(-157.17 0)">0</text><path d="M160.92 291.33L161.87 291.10V292.02L160.92 292.16ZM161.87 291.10h0.95V295.70h-0.95Z" fill="#1a1a1a"/>
<path d="M221.85 293.96L223.30 293.60V295.04L221.85 295.26ZM223.30 293.60h1.30V300.80h-1.30Z" fill="#1a1a1a"/><text x="229.30" y="300.80" font-size="11" text-anchor="middle" transform="translate(229.30 0) scale(1.12 1) translate(-229.30 0)">0</text><text x="234.80" y="295.70" font-size="7.0" text-anchor="middle" transform="translate(234.80 0) scale(1.07 1) translate(-234.80 0)">2</text>
<text x="143.3" y="319.0" font-size="11.6" text-anchor="middle" textLength="90.8" lengthAdjust="spacingAndGlyphs" >SVDNB radiance</text>
<text x="104.40" y="332" font-size="12" textLength="43.0" lengthAdjust="spacingAndGlyphs">(nW cm</text>
<rect x="148.30" y="325.5" width="3.6" height="0.8"/>
<text x="154.25" y="327.7" font-size="7.3" text-anchor="middle">2</text>
<text x="159.70" y="332" font-size="12" textLength="8.9" lengthAdjust="spacingAndGlyphs">sr</text>
<rect x="169.40" y="325.5" width="3.9" height="0.8"/>
<path d="M174.40 323.43L175.40 323.20V324.12L174.40 324.26ZM175.40 323.20h1.00V327.80h-1.00Z"/>
<text x="177.30" y="332" font-size="12">)</text>
<path d="M299.90 293.96L301.35 293.60V295.04L299.90 295.26ZM301.35 293.60h1.30V300.80h-1.30Z" fill="#1a1a1a"/><text x="307.35" y="300.80" font-size="11" text-anchor="middle" transform="translate(307.35 0) scale(1.12 1) translate(-307.35 0)">0</text><text x="312.95" y="295.70" font-size="7.0" text-anchor="middle" transform="translate(312.95 0) scale(1.07 1) translate(-312.95 0)">0</text>
<path d="M373.73 293.96L375.18 293.60V295.04L373.73 295.26ZM375.18 293.60h1.30V300.80h-1.30Z" fill="#1a1a1a"/><text x="381.18" y="300.80" font-size="11" text-anchor="middle" transform="translate(381.18 0) scale(1.12 1) translate(-381.18 0)">0</text><path d="M384.93 291.33L385.88 291.10V292.02L384.93 292.16ZM385.88 291.10h0.95V295.70h-0.95Z" fill="#1a1a1a"/>
<path d="M445.86 293.96L447.31 293.60V295.04L445.86 295.26ZM447.31 293.60h1.30V300.80h-1.30Z" fill="#1a1a1a"/><text x="453.31" y="300.80" font-size="11" text-anchor="middle" transform="translate(453.31 0) scale(1.12 1) translate(-453.31 0)">0</text><text x="458.81" y="295.70" font-size="7.0" text-anchor="middle" transform="translate(458.81 0) scale(1.07 1) translate(-458.81 0)">2</text>
<text x="367.5" y="319.0" font-size="11.6" text-anchor="middle" textLength="90.8" lengthAdjust="spacingAndGlyphs" >SVDNB radiance</text>
<text x="328.60" y="332" font-size="12" textLength="43.0" lengthAdjust="spacingAndGlyphs">(nW cm</text>
<rect x="372.50" y="325.5" width="3.6" height="0.8"/>
<text x="378.45" y="327.7" font-size="7.3" text-anchor="middle">2</text>
<text x="383.90" y="332" font-size="12" textLength="8.9" lengthAdjust="spacingAndGlyphs">sr</text>
<rect x="393.60" y="325.5" width="3.9" height="0.8"/>
<path d="M398.60 323.43L399.60 323.20V324.12L398.60 324.26ZM399.60 323.20h1.00V327.80h-1.00Z"/>
<text x="401.50" y="332" font-size="12">)</text>
<path d="M523.90 293.96L525.35 293.60V295.04L523.90 295.26ZM525.35 293.60h1.30V300.80h-1.30Z" fill="#1a1a1a"/><text x="531.35" y="300.80" font-size="11" text-anchor="middle" transform="translate(531.35 0) scale(1.12 1) translate(-531.35 0)">0</text><text x="536.95" y="295.70" font-size="7.0" text-anchor="middle" transform="translate(536.95 0) scale(1.07 1) translate(-536.95 0)">0</text>
<path d="M597.73 293.96L599.18 293.60V295.04L597.73 295.26ZM599.18 293.60h1.30V300.80h-1.30Z" fill="#1a1a1a"/><text x="605.18" y="300.80" font-size="11" text-anchor="middle" transform="translate(605.18 0) scale(1.12 1) translate(-605.18 0)">0</text><path d="M608.93 291.33L609.88 291.10V292.02L608.93 292.16ZM609.88 291.10h0.95V295.70h-0.95Z" fill="#1a1a1a"/>
<path d="M669.86 293.96L671.31 293.60V295.04L669.86 295.26ZM671.31 293.60h1.30V300.80h-1.30Z" fill="#1a1a1a"/><text x="677.31" y="300.80" font-size="11" text-anchor="middle" transform="translate(677.31 0) scale(1.12 1) translate(-677.31 0)">0</text><text x="682.81" y="295.70" font-size="7.0" text-anchor="middle" transform="translate(682.81 0) scale(1.07 1) translate(-682.81 0)">2</text>
<text x="591.7" y="319.0" font-size="11.6" text-anchor="middle" textLength="90.8" lengthAdjust="spacingAndGlyphs" >SVDNB radiance</text>
<text x="552.80" y="332" font-size="12" textLength="43.0" lengthAdjust="spacingAndGlyphs">(nW cm</text>
<rect x="596.70" y="325.5" width="3.6" height="0.8"/>
<text x="602.65" y="327.7" font-size="7.3" text-anchor="middle">2</text>
<text x="608.10" y="332" font-size="12" textLength="8.9" lengthAdjust="spacingAndGlyphs">sr</text>
<rect x="617.80" y="325.5" width="3.9" height="0.8"/>
<path d="M622.80 323.43L623.80 323.20V324.12L622.80 324.26ZM623.80 323.20h1.00V327.80h-1.00Z"/>
<text x="625.70" y="332" font-size="12">)</text>
<text transform="translate(12.0 219.6) rotate(-90)" font-size="12.4" textLength="134.6" lengthAdjust="spacingAndGlyphs">Number of lights per km</text>
<text transform="translate(5.6 82.6) rotate(-90)" font-size="7.6">2</text>
</g>
</svg></body></html>
